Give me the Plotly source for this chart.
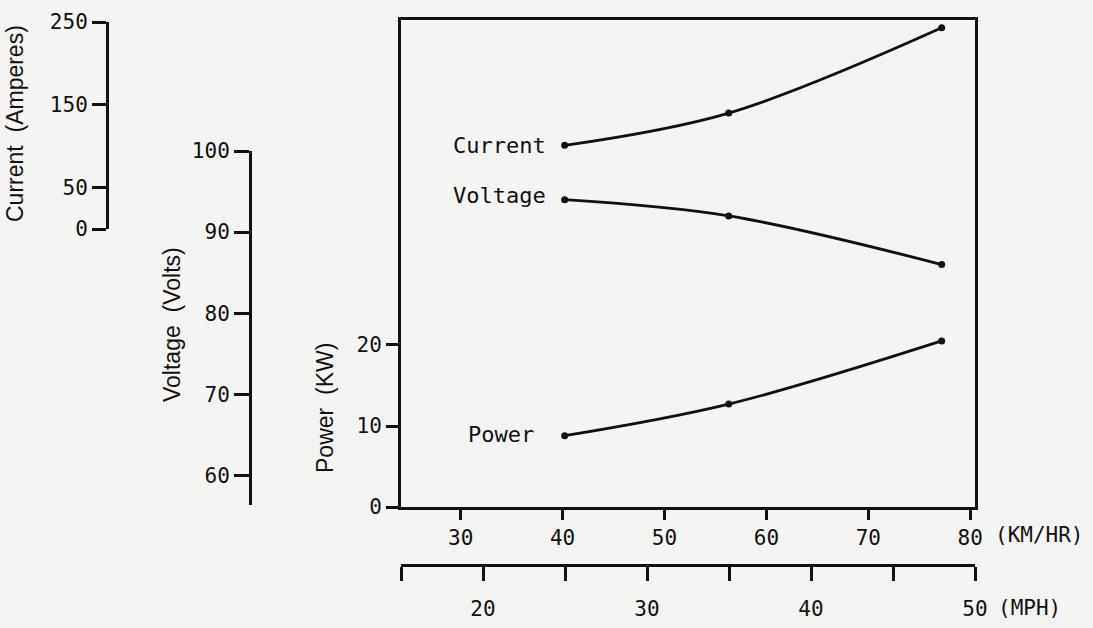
import plotly.graph_objects as go

W, H = 1093, 628

# ---- data ----
speed_kmh = [40.2, 56.3, 77.2]
speed_mph = [25, 35, 48]
current_a = [101, 140, 243]
voltage_v = [94, 92, 86]
power_kw = [8.8, 12.7, 20.5]

kmh_ticks = [30, 40, 50, 60, 70, 80]
kmh_labels = ["30", "40", "50", "60", "70", "80"]
mph_ticks = [15, 20, 25, 30, 35, 40, 45, 50]
mph_labels = ["", "20", "", "30", "", "40", "", "50"]
current_ticks = [0, 50, 150, 250]
voltage_ticks = [60, 70, 80, 90, 100]
power_ticks = [0, 10, 20]

def px(x):
    return x / W

def py(y):
    return 1 - y / H

INK = "#111111"
BG = "#f4f4f2"
MONO = "DejaVu Sans Mono"
SANS = "Liberation Sans"

line_style = dict(color=INK, width=2.8)
marker_style = dict(color=INK, size=7)

fig = go.Figure()
fig.add_trace(go.Scatter(x=speed_kmh, y=current_a, xaxis="x", yaxis="y2",
                         mode="lines+markers", line=dict(shape="spline", **line_style),
                         marker=marker_style, showlegend=False, hoverinfo="skip"))
fig.add_trace(go.Scatter(x=speed_kmh, y=voltage_v, xaxis="x", yaxis="y3",
                         mode="lines+markers", line=dict(shape="spline", **line_style),
                         marker=marker_style, showlegend=False, hoverinfo="skip"))
fig.add_trace(go.Scatter(x=speed_kmh, y=power_kw, xaxis="x", yaxis="y",
                         mode="lines+markers", line=dict(shape="spline", **line_style),
                         marker=marker_style, showlegend=False, hoverinfo="skip"))
# helper (invisible) trace so the MPH axis is drawn
fig.add_trace(go.Scatter(x=speed_mph, y=power_kw, xaxis="x2", yaxis="y",
                         mode="markers", marker=dict(opacity=0), showlegend=False,
                         hoverinfo="skip"))

x_dom = [px(401), px(975)]
tickfont = dict(family=MONO, size=21, color=INK)
common = dict(showgrid=False, zeroline=False, showline=True, linecolor=INK,
              linewidth=3, ticks="outside", tickcolor=INK, tickwidth=2.5,
              tickfont=tickfont, fixedrange=True, automargin=False)

fig.update_layout(
    width=W, height=H, autosize=False,
    margin=dict(l=0, r=0, t=0, b=0, pad=0, autoexpand=False),
    paper_bgcolor=BG, plot_bgcolor="rgba(0,0,0,0)",
    xaxis=dict(domain=x_dom, range=[24.14, 80.47], anchor="y",
               tickvals=kmh_ticks, ticktext=kmh_labels, ticklen=10,
               mirror=True, **common),
    xaxis2=dict(domain=x_dom, range=[15, 50], anchor="free", position=py(565),
                tickvals=mph_ticks, ticktext=mph_labels, ticklen=14,
                ticklabelstandoff=10, **common),
    yaxis=dict(domain=[py(507), py(20)], range=[0, 60.12], anchor="x",
               tickvals=power_ticks, ticklen=12, mirror=True, **common),
    yaxis2=dict(domain=[py(229), py(22)], range=[0, 250], anchor="free",
                position=px(107), side="left",
                tickvals=current_ticks, ticklen=14, **common),
    yaxis3=dict(domain=[py(505), py(151)], range=[56.35, 100], anchor="free",
                position=px(250), side="left",
                tickvals=voltage_ticks, ticklen=15, **common),
)

lab = dict(family=MONO, size=22, color=INK)
ttl = dict(family=SANS, size=23, color=INK)
annots = [
    dict(text="Current", x=px(451), y=py(145), xanchor="left", font=lab),
    dict(text="Voltage", x=px(451), y=py(196), xanchor="left", font=lab),
    dict(text="Power", x=px(466), y=py(434), xanchor="left", font=lab),
    dict(text="(KM/HR)", x=px(993), y=py(535), xanchor="left", font=tickfont),
    dict(text="(MPH)", x=px(996), y=py(608), xanchor="left", font=tickfont),
    dict(text="Current  (Amperes)", x=px(15), y=py(124), textangle=-90, font=ttl),
    dict(text="Voltage  (Volts)", x=px(172), y=py(325), textangle=-90, font=ttl),
    dict(text="Power  (KW)", x=px(325), y=py(408), textangle=-90, font=ttl),
]
for a in annots:
    a.update(xref="paper", yref="paper", showarrow=False, yanchor="middle")
    a.setdefault("xanchor", "center")
fig.update_layout(annotations=annots)

fig.write_html(
    "out.html",
    config={"displayModeBar": False, "responsive": False},
    post_script="document.body.style.margin='0';document.body.style.overflow='hidden';",
)
